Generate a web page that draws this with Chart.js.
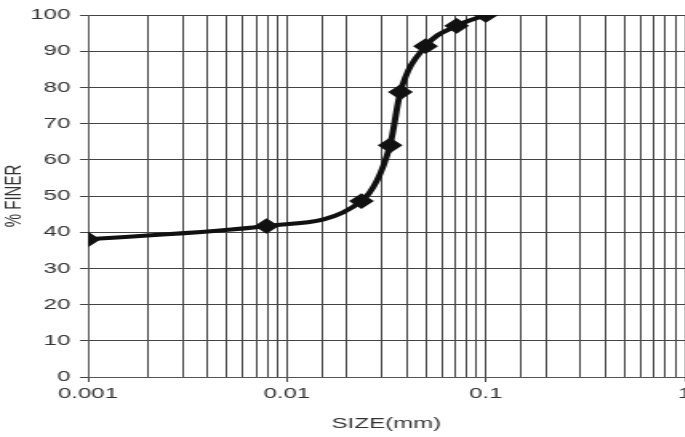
<!DOCTYPE html>
<html>
<head>
<meta charset="utf-8">
<script src="https://cdn.jsdelivr.net/npm/chart.js@4"></script>
<style>
  html, body { margin: 0; padding: 0; background: #fff; overflow: hidden; }
  #wrap { width: 685px; height: 437px; overflow: hidden; }
  /* the reference picture is stretched sideways, so is this one */
  #gradChart { transform: scaleX(1.6); transform-origin: 0 0; }
</style>
</head>
<body>
<div id="wrap"><canvas id="gradChart" width="437" height="437"></canvas></div>
<script>
// grain size distribution
const sizes = [0.001, 0.0079, 0.0237, 0.033, 0.0372, 0.0498, 0.0713, 0.1];
const finer = [38, 41.7, 48.6, 64, 78.7, 91.4, 97, 100];
const majorTicks = [0.001, 0.01, 0.1, 1];

const points = sizes.map((s, i) => ({ x: s, y: finer[i] }));

function isMajor(v) {
    return majorTicks.some(m => Math.abs(v - m) / m < 1e-6);
}

const font = 'Liberation Sans, Arial, sans-serif';

const ctx = document.getElementById('gradChart').getContext('2d');
new Chart(ctx, {
    type: 'scatter',
    data: {
        datasets: [{
            data: points,
            showLine: true,
            borderColor: '#111',
            backgroundColor: '#111',
            borderWidth: 4,
            pointStyle: 'rectRot',
            pointRadius: 5,
            cubicInterpolationMode: 'monotone'
        }]
    },
    options: {
        responsive: false,
        animation: false,
        layout: { padding: { top: 15, right: 0, left: 0, bottom: 0 } },
        plugins: { legend: { display: false }, tooltip: { enabled: false } },
        scales: {
            x: {
                type: 'logarithmic',
                min: 0.001,
                max: 1,
                border: { color: '#555', width: 1 },
                grid: {
                    color: '#444',
                    lineWidth: 1,
                    tickLength: 5,
                    tickColor: c => (c.tick && isMajor(c.tick.value)) ? '#444' : 'rgba(0,0,0,0)'
                },
                ticks: {
                    autoSkip: false,
                    maxRotation: 0,
                    color: '#333',
                    font: { family: font, size: 15 },
                    padding: 3,
                    callback: v => isMajor(v) ? String(v) : ''
                },
                title: {
                    display: true,
                    text: 'SIZE(mm)',
                    color: '#333',
                    font: { family: font, size: 15 },
                    padding: { top: 3, bottom: 4 }
                },
                afterFit: s => { s.height = 60; s.paddingLeft = 0; s.paddingRight = 0; }
            },
            y: {
                min: 0,
                max: 100,
                border: { color: '#555', width: 1 },
                grid: { color: '#444', lineWidth: 1, tickLength: 5 },
                ticks: {
                    stepSize: 10,
                    color: '#333',
                    font: { family: font, size: 15 },
                    padding: 6
                },
                title: {
                    display: true,
                    text: '% FINER',
                    color: '#333',
                    font: { family: font, size: 15 },
                    padding: { top: 0, bottom: 2 }
                },
                afterFit: s => { s.width = 55; }
            }
        }
    }
});
</script>
</body>
</html>
